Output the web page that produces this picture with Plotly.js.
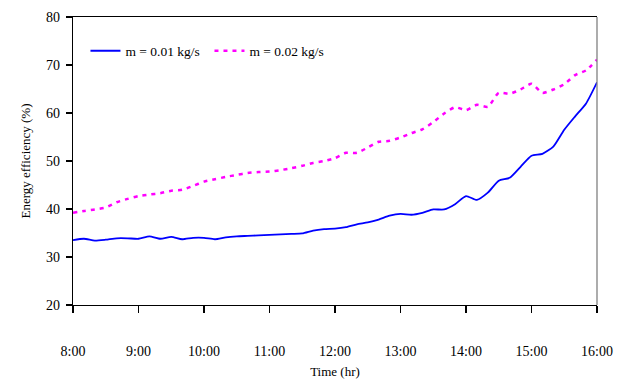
<!DOCTYPE html>
<html>
<head>
<meta charset="utf-8">
<script src="https://cdn.plot.ly/plotly-3.0.1.min.js"></script>
<style>
  html, body { margin: 0; padding: 0; background: #fff; }
  #chart { width: 619px; height: 379px; }
</style>
</head>
<body>
<div id="chart"></div>
<script>
// Time in hours (10-minute steps from 8:00 to 16:00)
const timeHours = [
  8.0000, 8.1667, 8.3333, 8.5000, 8.6667, 8.8333,
  9.0000, 9.1667, 9.3333, 9.5000, 9.6667, 9.8333,
  10.0000, 10.1667, 10.3333, 10.5000, 10.6667, 10.8333,
  11.0000, 11.1667, 11.3333, 11.5000, 11.6667, 11.8333,
  12.0000, 12.1667, 12.3333, 12.5000, 12.6667, 12.8333,
  13.0000, 13.1667, 13.3333, 13.5000, 13.6667, 13.8333,
  14.0000, 14.1667, 14.3333, 14.5000, 14.6667, 14.8333,
  15.0000, 15.1667, 15.3333, 15.5000, 15.6667, 15.8333,
  16.0000
];

// m = 0.01 kg/s energy efficiency (%)
const effLowFlow = [
  33.5, 33.8, 33.4, 33.6, 33.9, 33.9,
  33.8, 34.3, 33.8, 34.2, 33.7, 34.0,
  34.0, 33.7, 34.1, 34.3, 34.4, 34.5,
  34.6, 34.7, 34.8, 34.9, 35.5, 35.8,
  35.9, 36.2, 36.8, 37.2, 37.8, 38.6,
  39.0, 38.8, 39.2, 39.9, 39.9, 41.0,
  42.7, 41.9, 43.4, 45.9, 46.5, 48.8,
  51.1, 51.5, 53.0, 56.5, 59.3, 62.0,
  66.4
];

// m = 0.02 kg/s energy efficiency (%)
const effHighFlow = [
  39.2, 39.6, 39.9, 40.3, 41.4, 42.1,
  42.7, 43.0, 43.3, 43.8, 44.0, 44.8,
  45.7, 46.2, 46.7, 47.1, 47.5, 47.7,
  47.8, 48.1, 48.5, 49.0, 49.6, 50.0,
  50.6, 51.7, 51.7, 52.8, 54.0, 54.2,
  54.9, 55.8, 56.6, 58.1, 59.9, 61.2,
  60.6, 61.7, 61.3, 64.2, 64.0, 64.9,
  66.1, 64.2, 64.9, 66.0, 67.9, 68.9,
  71.1
];

const xTickVals = [8, 9, 10, 11, 12, 13, 14, 15, 16];
const xTickText = ["8:00", "9:00", "10:00", "11:00", "12:00", "13:00", "14:00", "15:00", "16:00"];
const seriesNames = ["m = 0.01 kg/s", "m = 0.02 kg/s"];

const serif = "'Liberation Serif', 'Times New Roman', Times, serif";

const traces = [
  {
    x: timeHours, y: effLowFlow, name: seriesNames[0],
    type: "scatter", mode: "lines",
    line: { color: "#0000FF", width: 1.8, shape: "spline", smoothing: 0.6 }
  },
  {
    x: timeHours, y: effHighFlow, name: seriesNames[1],
    type: "scatter", mode: "lines",
    line: { color: "#FF00FF", width: 2.5, dash: "4px,5px", shape: "spline", smoothing: 0.6 }
  }
];

const layout = {
  width: 619, height: 379,
  margin: { l: 73, r: 22, t: 17, b: 74, pad: 0 },
  paper_bgcolor: "#ffffff", plot_bgcolor: "#ffffff",
  font: { family: serif, color: "#000000", size: 14 },
  showlegend: true,
  legend: {
    orientation: "h", x: 0.0238, y: 0.882, xanchor: "left", yanchor: "middle",
    bgcolor: "rgba(0,0,0,0)", borderwidth: 0,
    font: { family: serif, size: 13.5, color: "#000" },
    itemwidth: 30, entrywidth: 79, entrywidthmode: "pixels"
  },
  xaxis: {
    range: [8, 16], tickmode: "array", tickvals: xTickVals, ticktext: xTickText,
    showgrid: false, zeroline: false,
    showline: true, linecolor: "#000", linewidth: 1.3, mirror: true,
    ticks: "outside", ticklen: 7, tickwidth: 1.3, tickcolor: "#000",
    ticklabelstandoff: 26,
    tickfont: { family: serif, size: 14, color: "#000" },
    title: { text: "Time (hr)", font: { family: serif, size: 13, color: "#000" }, standoff: 8 }
  },
  yaxis: {
    range: [20, 80], tickmode: "linear", tick0: 20, dtick: 10,
    showgrid: false, zeroline: false,
    showline: true, linecolor: "#000", linewidth: 1.3, mirror: false,
    ticks: "outside", ticklen: 6, tickwidth: 1.3, tickcolor: "#000",
    ticklabelstandoff: 3,
    tickfont: { family: serif, size: 14, color: "#000" },
    title: { text: "Energy efficiency (%)", font: { family: serif, size: 13, color: "#000" }, standoff: 12 }
  },
  shapes: [
    { type: "line", xref: "paper", yref: "paper", x0: 1, x1: 1, y0: 0, y1: 1,
      line: { color: "#808080", width: 1.3 } }
  ]
};

Plotly.newPlot("chart", traces, layout, { staticPlot: true, displayModeBar: false });
</script>
</body>
</html>
